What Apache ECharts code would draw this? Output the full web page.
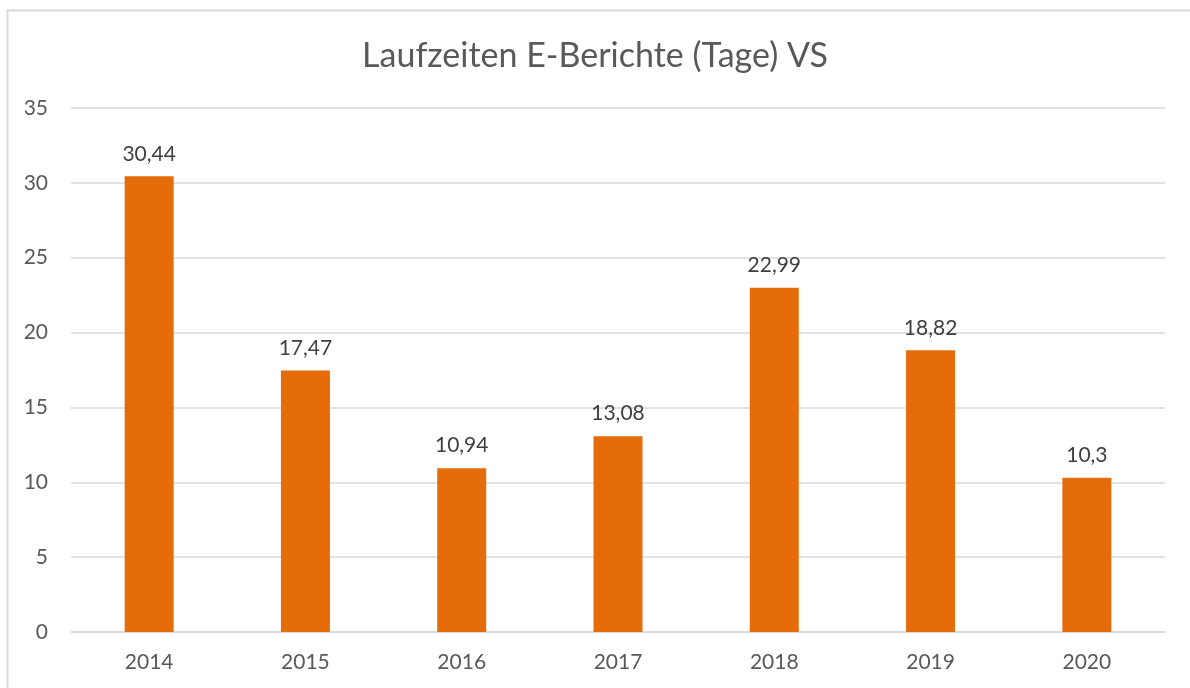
<!DOCTYPE html>
<html>
<head>
<meta charset="utf-8">
<script src="https://cdn.jsdelivr.net/npm/echarts@6/dist/echarts.min.js"></script>
<style>
  html, body { margin: 0; padding: 0; background: #fff; }
  #container { width: 1190px; height: 688px; }
</style>
</head>
<body>
<div id="container"></div>
<script>
var years = ['2014', '2015', '2016', '2017', '2018', '2019', '2020'];
var laufzeiten = [30.44, 17.47, 10.94, 13.08, 22.99, 18.82, 10.3];

var dom = document.getElementById('container');
var myChart = echarts.init(dom);
var font = 'Lato, "Open Sans", sans-serif';

var option = {
  animation: false,
  textStyle: { fontFamily: font },
  title: {
    text: 'Laufzeiten E-Berichte (Tage) VS',
    left: 'center',
    top: 34,
    textStyle: { color: '#595959', fontSize: 34, fontWeight: 'normal', fontFamily: font }
  },
  graphic: [{
    type: 'rect',
    shape: { x: 7.5, y: 10.5, width: 1200, height: 700 },
    style: { fill: null, stroke: '#d9d9d9', lineWidth: 2 },
    silent: true
  }],
  grid: { left: 71, right: 25, top: 108, bottom: 56 },
  xAxis: {
    type: 'category',
    data: years,
    axisLine: { lineStyle: { color: '#d9d9d9', width: 1.5 } },
    axisTick: { show: false },
    axisLabel: { color: '#595959', fontSize: 21, margin: 20 }
  },
  yAxis: {
    type: 'value',
    min: 0,
    max: 35,
    interval: 5,
    axisLine: { show: false },
    axisTick: { show: false },
    splitLine: { lineStyle: { color: '#d9d9d9', width: 1.5 } },
    axisLabel: { color: '#595959', fontSize: 21, margin: 23 }
  },
  series: [{
    type: 'bar',
    data: laufzeiten,
    barWidth: 49,
    itemStyle: { color: '#e46c0a' },
    label: {
      show: true,
      position: 'top',
      distance: 12,
      color: '#404040',
      fontSize: 21,
      formatter: function (p) {
        return String(p.value).replace('.', ',');
      }
    }
  }]
};

myChart.setOption(option);
</script>
</body>
</html>
